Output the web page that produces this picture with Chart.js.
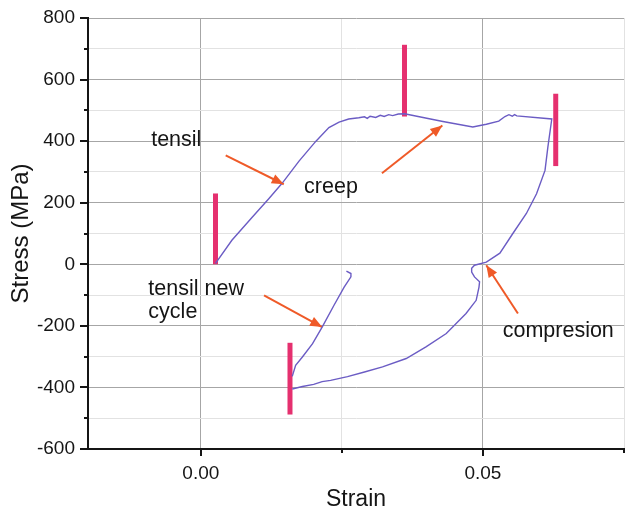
<!DOCTYPE html>
<html>
<head>
<meta charset="utf-8">
<style>
  html, body { margin: 0; padding: 0; background: #fff; }
  canvas { display: block; }
</style>
</head>
<body>
<canvas id="stressStrain" width="628" height="517"></canvas>
<script src="https://cdn.jsdelivr.net/npm/chart.js"></script>
<script>
// axis ticks (labelled ones are the major ticks)
const strainTicks = [0, 0.025, 0.05, 0.075];
const strainTickLabels = ['0.00', '', '0.05', ''];
const stressTicks = [-600, -500, -400, -300, -200, -100, 0, 100, 200, 300, 400, 500, 600, 700, 800];
const stressTickLabels = ['-600', '', '-400', '', '-200', '', '0', '', '200', '', '400', '', '600', '', '800'];

// first cycle: tension, creep hold, unloading and compression
const loopStrain = [0.0026, 0.0055, 0.0091, 0.0120, 0.0144, 0.0174, 0.0204, 0.0227, 0.0245, 0.0262,
  0.0280, 0.0290, 0.0295, 0.0300, 0.0310, 0.0318, 0.0325, 0.0333, 0.0340, 0.0350, 0.0361,
  0.0429, 0.0482, 0.0506, 0.0528, 0.0539, 0.0546, 0.0552, 0.0556, 0.0560, 0.0622,
  0.0615, 0.0610, 0.0595, 0.0577, 0.0553, 0.0530, 0.0506, 0.0485, 0.0480, 0.0480, 0.0485,
  0.0494, 0.0493, 0.0488, 0.0470, 0.0435, 0.0399, 0.0364, 0.0322, 0.0290, 0.0260, 0.0230,
  0.0215, 0.0200, 0.0180, 0.0162];
const loopStress = [3, 78, 153, 212, 263, 335, 400, 444, 462, 472,
  476, 479, 474, 481, 477, 484, 480, 486, 483, 488, 489,
  464, 446, 455, 465, 480, 486, 481, 486, 482, 472,
  380, 305, 229, 165, 100, 36, 7, -3, -13, -25, -41,
  -57, -74, -117, -160, -225, -268, -306, -333, -350, -365, -377,
  -381, -390, -397, -405];

// start of the next tensile cycle
const newCycleStrain = [0.0162, 0.0168, 0.0180, 0.0198, 0.0215, 0.0236, 0.0254, 0.0266, 0.0266, 0.0258];
const newCycleStress = [-364, -328, -301, -258, -204, -133, -74, -41, -30, -22];

// pink markers at the load changes
const markerStrain = [0.0026, 0.0361, 0.0629, 0.0158];
const markerLow = [0, 480, 319, -488];
const markerHigh = [230, 713, 554, -255];

// pointer arrows, tail -> head
const arrowTailStrain = [0.0044, 0.0321, 0.0112, 0.0562];
const arrowTailStress = [354, 296, -101, -160];
const arrowHeadStrain = [0.0147, 0.0428, 0.0215, 0.0506];
const arrowHeadStress = [260, 451, -204, -3];

// notes (left edge / baseline)
const noteText = ['tensil', 'creep', 'tensil new', 'cycle', 'compresion'];
const noteStrain = [-0.0088, 0.0183, -0.0093, -0.0093, 0.0535];
const noteStress = [383, 233, -101, -174, -237];

const FONT = "'Liberation Sans', Arial, sans-serif";
const INK = '#151515';
const CURVE = '#6b5cc4';
const MARKER = '#e5306f';
const ARROW = '#ef5a28';

const zip = (xs, ys) => xs.map((x, i) => ({ x: x, y: ys[i] }));

const datasets = [
  { data: zip(loopStrain, loopStress), borderColor: CURVE, borderWidth: 1.4 },
  { data: zip(newCycleStrain, newCycleStress), borderColor: CURVE, borderWidth: 1.4 }
];
markerStrain.forEach((x, i) => {
  datasets.push({
    data: [{ x: x, y: markerLow[i] }, { x: x, y: markerHigh[i] }],
    borderColor: MARKER, borderWidth: 5, borderCapStyle: 'butt'
  });
});
arrowTailStrain.forEach((x, i) => {
  datasets.push({
    data: [{ x: x, y: arrowTailStress[i] }, { x: arrowHeadStrain[i], y: arrowHeadStress[i] }],
    borderColor: ARROW, borderWidth: 2, arrow: true
  });
});

// filled heads on the arrow datasets
const arrowHeads = {
  id: 'arrowHeads',
  afterDatasetsDraw(chart) {
    const ctx = chart.ctx;
    chart.data.datasets.forEach((ds, i) => {
      if (!ds.arrow) return;
      const pts = chart.getDatasetMeta(i).data;
      const a = pts[0], b = pts[1];
      const ang = Math.atan2(b.y - a.y, b.x - a.x);
      ctx.save();
      ctx.fillStyle = ds.borderColor;
      ctx.translate(b.x, b.y);
      ctx.rotate(ang);
      ctx.beginPath();
      ctx.moveTo(0, 0);
      ctx.lineTo(-12, -5);
      ctx.lineTo(-12, 5);
      ctx.closePath();
      ctx.fill();
      ctx.restore();
    });
  }
};

// text notes placed in data coordinates
const notes = {
  id: 'notes',
  afterDatasetsDraw(chart) {
    const ctx = chart.ctx;
    const sx = chart.scales.x, sy = chart.scales.y;
    ctx.save();
    ctx.font = '21.5px ' + FONT;
    ctx.fillStyle = INK;
    ctx.textAlign = 'left';
    ctx.textBaseline = 'alphabetic';
    noteText.forEach((t, i) => {
      ctx.fillText(t, sx.getPixelForValue(noteStrain[i]), sy.getPixelForValue(noteStress[i]));
    });
    ctx.restore();
  }
};

// outward tick marks, long for major and short for minor
const tickMarks = {
  id: 'tickMarks',
  afterDraw(chart) {
    const ctx = chart.ctx;
    const area = chart.chartArea;
    const sx = chart.scales.x, sy = chart.scales.y;
    ctx.save();
    ctx.strokeStyle = INK;
    ctx.lineWidth = 2;
    ctx.beginPath();
    stressTicks.forEach((v, i) => {
      const py = Math.round(sy.getPixelForValue(v));
      const len = stressTickLabels[i] ? 8 : 4;
      ctx.moveTo(area.left - len, py);
      ctx.lineTo(area.left, py);
    });
    strainTicks.forEach((v, i) => {
      const px = Math.round(sx.getPixelForValue(v));
      const len = strainTickLabels[i] ? 7 : 4;
      ctx.moveTo(px, area.bottom);
      ctx.lineTo(px, area.bottom + len);
    });
    ctx.stroke();
    ctx.restore();
  }
};

const gridColor = (labels) => (c) => (labels[c.index] ? '#a6a6a6' : '#e2e2e2');

new Chart(document.getElementById('stressStrain'), {
  type: 'scatter',
  data: { datasets: datasets },
  options: {
    responsive: false,
    animation: false,
    devicePixelRatio: 1,
    layout: { padding: { top: 18, right: 4, left: 0, bottom: 0 } },
    elements: {
      point: { radius: 0, hoverRadius: 0 },
      line: { tension: 0, fill: false }
    },
    datasets: { scatter: { showLine: true } },
    plugins: { legend: { display: false }, tooltip: { enabled: false } },
    scales: {
      x: {
        type: 'linear',
        min: -0.02,
        max: 0.075,
        afterBuildTicks: (s) => { s.ticks = strainTicks.map((v) => ({ value: v })); },
        afterFit: (s) => { s.height = 68; s.paddingLeft = 0; s.paddingRight = 0; },
        ticks: {
          autoSkip: false, maxRotation: 0, padding: 13,
          color: INK, font: { family: FONT, size: 19 },
          callback: (v, i) => strainTickLabels[i]
        },
        grid: { color: gridColor(strainTickLabels), lineWidth: 1, drawTicks: false },
        border: { color: INK, width: 2 },
        title: {
          display: true, text: 'Strain', color: INK,
          font: { family: FONT, size: 23 }, padding: { top: 0, bottom: 4 }
        }
      },
      y: {
        type: 'linear',
        min: -600,
        max: 800,
        afterBuildTicks: (s) => { s.ticks = stressTicks.map((v) => ({ value: v })); },
        afterFit: (s) => { s.width = 88; s.paddingTop = 0; s.paddingBottom = 0; },
        ticks: {
          autoSkip: false, padding: 13,
          color: INK, font: { family: FONT, size: 19 },
          callback: (v, i) => stressTickLabels[i]
        },
        grid: { color: gridColor(stressTickLabels), lineWidth: 1, drawTicks: false },
        border: { color: INK, width: 2 },
        title: {
          display: true, text: 'Stress (MPa)', color: INK,
          font: { family: FONT, size: 24 }, padding: { top: 7, bottom: 0 }
        }
      }
    }
  },
  plugins: [arrowHeads, notes, tickMarks]
});
</script>
</body>
</html>
